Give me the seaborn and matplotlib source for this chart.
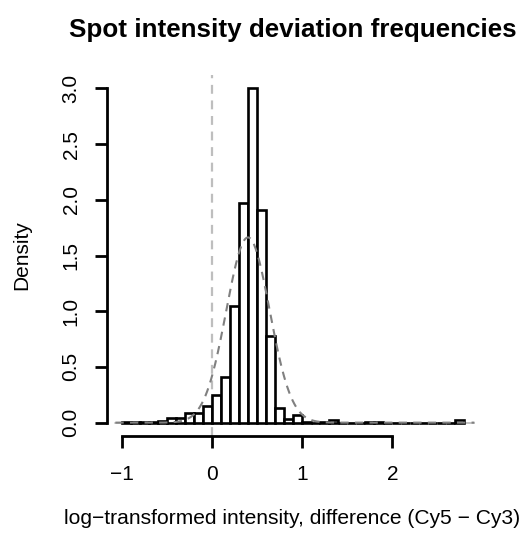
import numpy as np
import pandas as pd
import matplotlib
matplotlib.use("Agg")
import matplotlib.pyplot as plt
import seaborn as sns

# ---- data ----
bin_edges = [-1.0, -0.9, -0.8, -0.7, -0.6, -0.5, -0.4, -0.3, -0.2, -0.1, 0.0,
             0.1, 0.2, 0.3, 0.4, 0.5, 0.6, 0.7, 0.8, 0.9, 1.0,
             1.1, 1.2, 1.3, 1.4, 1.5, 1.6, 1.7, 1.8, 1.9, 2.0,
             2.1, 2.2, 2.3, 2.4, 2.5, 2.6, 2.7, 2.8]
densities = [0.01, 0.005, 0.01, 0.01, 0.015, 0.04, 0.045, 0.085, 0.085, 0.15,
             0.25, 0.41, 1.05, 1.97, 3.0, 1.91, 0.78, 0.13, 0.035, 0.07,
             0.005, 0.0, 0.005, 0.02, 0.0, 0.0, 0.0, 0.01, 0.01, 0.0,
             0.0, 0.0, 0.0, 0.0, 0.0, 0.0, 0.0, 0.02]
fit_mean = 0.40
fit_sd = 0.24
curve_range = [-1.07, 2.91]
x_ticks = [-1, 0, 1, 2]
y_ticks = [0.0, 0.5, 1.0, 1.5, 2.0, 2.5, 3.0]
title = "Spot intensity deviation frequencies"
xlabel = "log\u2212transformed intensity, difference (Cy5 \u2212 Cy3)"
ylabel = "Density"

sns.set_style("white")
plt.rcParams['font.family'] = ['Liberation Sans', 'DejaVu Sans']
plt.rcParams['axes.unicode_minus'] = True
plt.rcParams['text.color'] = 'black'
plt.rcParams['axes.labelcolor'] = 'black'
plt.rcParams['xtick.color'] = 'black'
plt.rcParams['ytick.color'] = 'black'

fig = plt.figure(figsize=(5.22, 5.35), dpi=100)
ax = fig.add_axes([107/522, 99/535, 371/522, 361/535])

edges = np.array(bin_edges)
centers = (edges[:-1] + edges[1:]) / 2
df = pd.DataFrame({"x": centers, "w": densities})

# light grey base line and the vertical reference line
ax.plot(curve_range, [0, 0], color="#bebebe", lw=1.3, zorder=1)
ax.axvline(0, color="#bebebe", lw=1.6, ls=(0, (4, 3)), zorder=1)

sns.histplot(data=df, x="x", weights="w", bins=list(bin_edges), stat="count",
             fill=True, color="white", edgecolor="black", linewidth=1.9,
             alpha=1, ax=ax, zorder=2)

# fitted normal curve
xs = np.linspace(curve_range[0], curve_range[1], 400)
ys = np.exp(-0.5 * ((xs - fit_mean) / fit_sd) ** 2) / (fit_sd * np.sqrt(2 * np.pi))
sns.lineplot(x=xs, y=ys, ax=ax, color="#808080", lw=1.5,
             linestyle=(0, (4, 3)), zorder=3)

ax.set_xlim(-1.163, 2.95)
ax.set_ylim(-0.12, 3.12)
ax.set_xticks(x_ticks)
ax.set_xticklabels(["\u22121", "0", "1", "2"])
ax.set_yticks(y_ticks)
ax.set_yticklabels([f"{v:.1f}" for v in y_ticks], rotation=90, va="center")

for s in ["top", "right"]:
    ax.spines[s].set_visible(False)
ax.spines["left"].set_bounds(0, 3)
ax.spines["bottom"].set_bounds(-1, 2)
for s in ["left", "bottom"]:
    ax.spines[s].set_linewidth(2.0)
    ax.spines[s].set_color("black")
ax.tick_params(axis="both", direction="out", length=8.5, width=2.0,
               color="black", labelcolor="black", labelsize=15,
               left=True, bottom=True)
ax.tick_params(axis="x", pad=12.5)
ax.tick_params(axis="y", pad=10.5)

ax.set_xlabel(xlabel, fontsize=15.1, labelpad=18, color="black")
ax.set_ylabel(ylabel, fontsize=15, labelpad=22, color="black")
ax.set_title(title, fontsize=18.7, fontweight="bold", pad=27, color="black")

fig.savefig("out.png", dpi=100)
